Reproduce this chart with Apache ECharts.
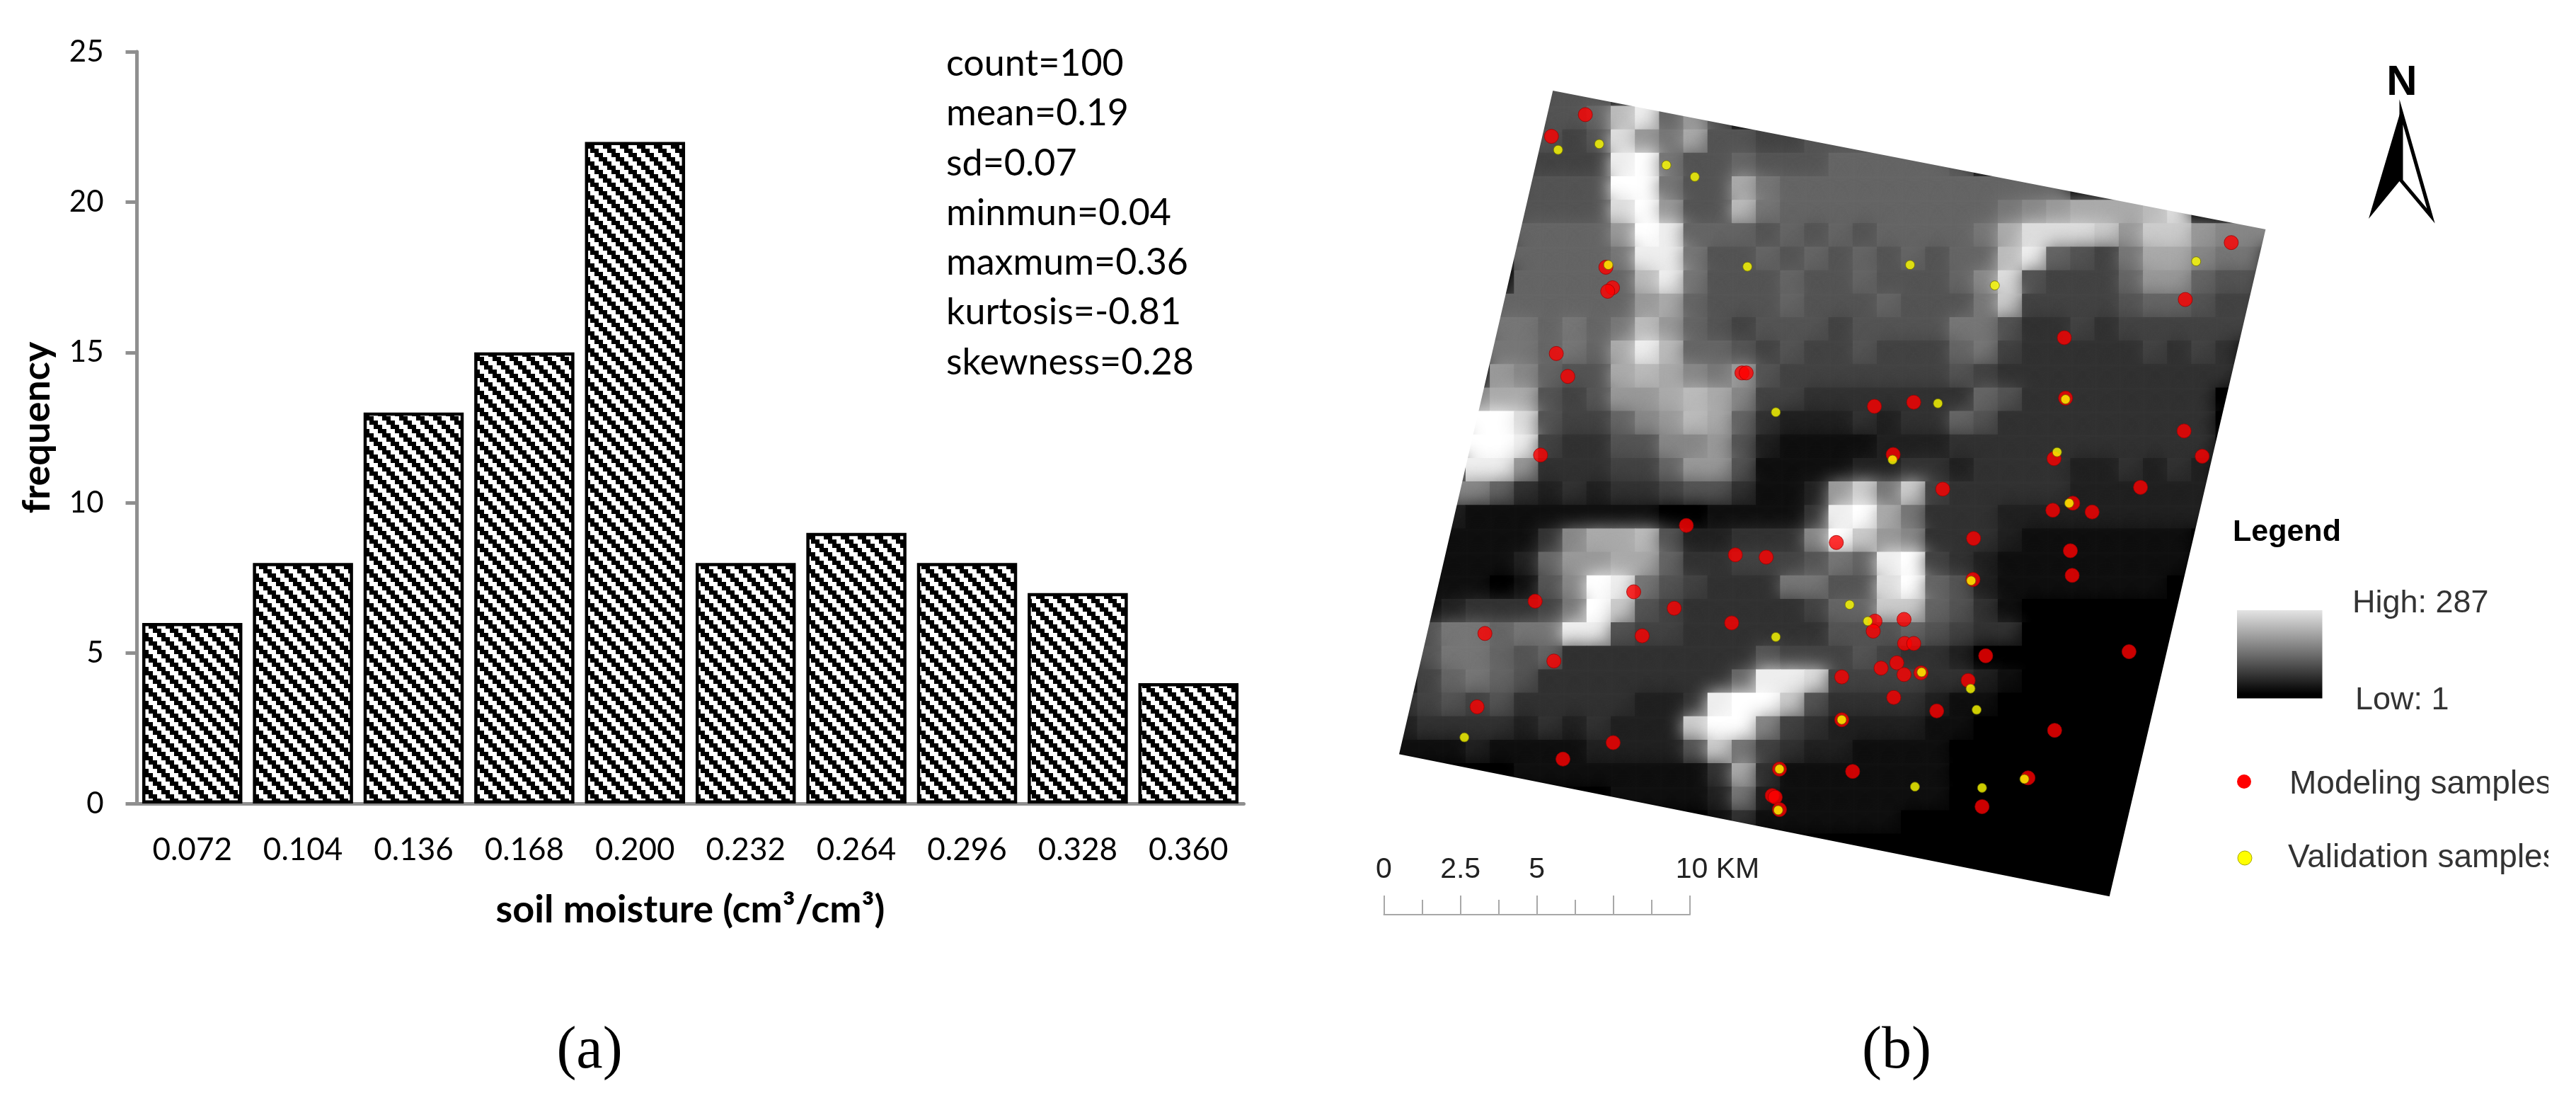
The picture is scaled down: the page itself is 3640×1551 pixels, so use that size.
<!DOCTYPE html>
<html>
<head>
<meta charset="utf-8">
<title>soil moisture histogram and sample map</title>
<style>
html, body { margin: 0; padding: 0; background: #fff; }
#main { width: 3640px; height: 1551px; }
</style>
<script src="https://cdn.jsdelivr.net/npm/echarts@6/dist/echarts.min.js"></script>
</head>
<body>
<div id="main"></div>
<script>
// histogram (a)
var binLabels = ['0.072', '0.104', '0.136', '0.168', '0.200', '0.232', '0.264', '0.296', '0.328', '0.360'];
var binCounts = [6, 8, 13, 15, 22, 8, 9, 8, 7, 4];
var statLines = ['count=100', 'mean=0.19', 'sd=0.07', 'minmun=0.04', 'maxmum=0.36', 'kurtosis=-0.81', 'skewness=0.28'];

// map (b): grey levels 0-f read by eye, one string per row, 40 map units per cell
var demRows = [
    '0000005550000000000000000000000000000',
    '000000556be69500000000000000000000000',
    '000000545d97a554455500000000000000000',
    '000004444ef7556555666665000000000000 0'.replace(' ', ''),
    '000005555ff755a766666666666600000000 0'.replace(' ', ''),
    '000005555df955b7666666666789aaabd0000',
    '0000066669fe6665656566667adddc9cc9888',
    '0000066667ee7556565656566be6547aa8770',
    '0000066666be7555655655568d54446996550',
    '00006666669a6555655565557c44445665440',
    '0000776767b96545554555577533434444440',
    '000077676aeb6654544544467433333434300',
    '000098655aba879544444445433333333 3300'.replace(' ', ''),
    '0008aa54599aba84433333336533333333000',
    '000ffd544689ba63222323365333333333000',
    '000ffe433558895211112223333333333 3000'.replace(' ', ''),
    '000ee933344699511112233233332232 32000'.replace(' ', ''),
    '0088632323345531129c7c433333222222000',
    '002111111110011113efa7333222222222000',
    '00111138aab5223338fc98333211111110000',
    '001112699aa633444576ef432111111110000',
    '01110158fe7543337755df652111111100000',
    '01233347fc5433333466cc653100000000000',
    '0577677ee54433333355565433000000000 00'.replace(' ', ''),
    '05776563333333354445433200000000000 00'.replace(' ', ''),
    '046765333333336eed4444332100000000000',
    '3454533333223effc53333211000000000000',
    '233332323222cff8432222110000000000000',
    '1112111122225c74322111100000000000000',
    '00000111111113a3111111100000000000000',
    '0000000001111272111111100000000000000',
    '0000000000000131111110000000000000000',
    '0000000000000000000000000000000000000',
    '0000000000000000000000000000000000000',
    '0000000000000000000000000000000000000'
];
var demCorners = [[343, 92], [1525, 329], [1266, 1469], [88, 1226]];

var modelingSamples = [
    [398, 135], [342, 172], [432, 395], [443, 430], [435, 436], [350, 542], [369, 581], [657, 575], [664, 575],
    [1466, 353], [1390, 450], [1190, 515], [876, 632], [941, 625], [1192, 618], [324, 715], [907, 714], [1173, 721],
    [1388, 674], [1418, 717], [989, 773], [1316, 770], [1171, 809], [1204, 797], [1236, 812], [565, 835], [813, 864],
    [646, 885], [697, 889], [1040, 857], [1200, 878], [1203, 920], [1039, 927], [478, 948], [315, 964], [545, 976],
    [640, 1001], [877, 998], [925, 995], [874, 1015], [232, 1019], [492, 1023], [926, 1036], [941, 1036], [346, 1066],
    [1060, 1057], [1297, 1050], [913, 1069], [887, 1078], [925, 1089], [953, 1086], [822, 1093], [1031, 1099],
    [908, 1128], [979, 1151], [219, 1144], [822, 1166], [1174, 1184], [444, 1205], [361, 1233], [719, 1250],
    [840, 1254], [1130, 1265], [707, 1295], [712, 1298], [719, 1319], [1054, 1314]
];
var validationSamples = [
    [353, 195], [421, 185], [532, 221], [579, 241], [436, 391], [666, 394], [935, 391], [1075, 426], [1408, 385],
    [713, 642], [981, 627], [1192, 620], [906, 723], [1178, 710], [1198, 797], [1036, 929], [835, 970], [865, 998],
    [954, 1085], [713, 1025], [1035, 1113], [1045, 1149], [822, 1166], [198, 1196], [719, 1250], [943, 1280],
    [1054, 1282], [1124, 1267], [717, 1320]
];

var CELL = 40;
var demCells = [];
demRows.forEach(function (row, r) {
    for (var c = 0; c < row.length; c++) {
        demCells.push([80 + c * CELL, 80 + r * CELL, parseInt(row[c], 16)]);
    }
});

// 黑白斜纹填充
function stripePattern() {
    var cv = document.createElement('canvas');
    cv.width = 24;
    cv.height = 24;
    var ctx = cv.getContext('2d');
    ctx.fillStyle = '#fff';
    ctx.fillRect(0, 0, 24, 24);
    ctx.fillStyle = '#000';
    for (var j = 0; j < 4; j++) {
        for (var i = 0; i < 4; i++) {
            if ((i - j + 4) % 4 < 2) {
                ctx.fillRect(i * 6, j * 6, 6, 6);
            }
        }
    }
    return cv;
}

function renderDemCell(params, api) {
    var p = api.coord([api.value(0), api.value(1)]);
    var q = api.coord([api.value(0) + CELL, api.value(1) + CELL]);
    var g = api.value(2) * 17;
    var col = 'rgb(' + g + ',' + g + ',' + g + ')';
    return {
        type: 'rect',
        shape: { x: p[0], y: p[1], width: q[0] - p[0] + 1, height: q[1] - p[1] + 1 },
        style: { fill: col, shadowColor: col, shadowBlur: 26 }
    };
}

// 遮住平行四边形以外的部分
function renderDemMask(params, api) {
    var L = 20, R = 1630, T = 20, B = 1540;
    var c = demCorners;
    var quads = [
        [[L, T], [R, T], c[1], c[0]],
        [[R, T], [R, B], c[2], c[1]],
        [[R, B], [L, B], c[3], c[2]],
        [[L, B], [L, T], c[0], c[3]]
    ];
    return {
        type: 'polygon',
        shape: { points: quads[api.value(0)].map(function (pt) { return api.coord(pt); }) },
        style: { fill: '#fff', stroke: '#fff', lineWidth: 3 }
    };
}

function legendText(text, x, y, size, weight, color) {
    return {
        type: 'text', x: x, y: y, z: 20,
        style: {
            text: text, fill: color || '#333',
            font: (weight || 'normal') + ' ' + size + 'px "Liberation Sans"',
            verticalAlign: 'middle'
        }
    };
}

var chart = echarts.init(document.getElementById('main'));
var axisGrey = '#8f8f8f';

chart.setOption({
    animation: false,
    backgroundColor: '#fff',
    grid: [
        { left: 193.5, top: 73, width: 1564, height: 1062 },
        { left: 1900, top: 50, width: 1340, height: 1300 },
        { left: 1955.5, top: 1291, width: 432.5, height: 1 }
    ],
    xAxis: [
        {
            type: 'category', gridIndex: 0, data: binLabels,
            axisLine: { lineStyle: { color: axisGrey, width: 5 } },
            axisTick: { length: 16, lineStyle: { color: axisGrey, width: 5 } },
            axisLabel: { color: '#000', fontFamily: 'Lato', fontSize: 44, margin: 44, interval: 0 },
            name: 'soil moisture (cm³/cm³)', nameLocation: 'middle', nameGap: 124,
            nameTextStyle: { color: '#000', fontFamily: 'Lato', fontWeight: 'bold', fontSize: 54 }
        },
        { type: 'value', gridIndex: 1, min: 0, max: 1568, show: false },
        {
            type: 'value', gridIndex: 2, min: 0, max: 10, interval: 2.5, z: 10,
            axisLine: { show: true, onZero: false, lineStyle: { color: '#a8a8a8', width: 2 } },
            axisTick: { show: true, inside: true, length: 27, lineStyle: { color: '#a8a8a8', width: 2 } },
            minorTick: { show: true, splitNumber: 2, length: 21, lineStyle: { color: '#a8a8a8', width: 2 } },
            splitLine: { show: false },
            axisLabel: {
                inside: true, margin: 43, color: '#222', fontFamily: 'Liberation Sans', fontSize: 41,
                formatter: function (v) {
                    if (v === 10) { return '{km|10 KM}'; }
                    return v === 7.5 ? '' : String(v);
                },
                rich: { km: { fontFamily: 'Liberation Sans', fontSize: 41, color: '#222', padding: [0, 0, 0, 78] } }
            }
        }
    ],
    yAxis: [
        {
            type: 'value', gridIndex: 0, min: 0, max: 25, interval: 5,
            axisLine: { show: true, lineStyle: { color: axisGrey, width: 5 } },
            axisTick: { show: true, length: 16, lineStyle: { color: axisGrey, width: 5 } },
            splitLine: { show: false },
            axisLabel: { color: '#000', fontFamily: 'Lato', fontSize: 42, margin: 47 },
            name: 'frequency', nameLocation: 'middle', nameGap: 114, nameRotate: 90,
            nameTextStyle: { color: '#000', fontFamily: 'Lato', fontWeight: 'bold', fontSize: 54 }
        },
        { type: 'value', gridIndex: 1, min: 0, max: 1568, inverse: true, show: false },
        { type: 'value', gridIndex: 2, min: 0, max: 1, show: false }
    ],
    series: [
        {
            type: 'bar', xAxisIndex: 0, yAxisIndex: 0, data: binCounts, barWidth: 141.5,
            itemStyle: { color: { image: stripePattern(), repeat: 'repeat' }, borderColor: '#000', borderWidth: 4.5 },
            z: 1
        },
        {
            type: 'custom', xAxisIndex: 1, yAxisIndex: 1, data: demCells, renderItem: renderDemCell,
            clip: false, silent: true, z: 2
        },
        {
            type: 'custom', xAxisIndex: 1, yAxisIndex: 1, data: [[0], [1], [2], [3]], renderItem: renderDemMask,
            clip: false, silent: true, z: 3
        },
        {
            type: 'scatter', name: 'Modeling samples', xAxisIndex: 1, yAxisIndex: 1, data: modelingSamples,
            symbolSize: 20, itemStyle: { color: '#ff0000', borderColor: '#a00000', borderWidth: 1 }, z: 4
        },
        {
            type: 'scatter', name: 'Validation samples', xAxisIndex: 1, yAxisIndex: 1, data: validationSamples,
            symbolSize: 13, itemStyle: { color: '#ffff00', borderColor: '#6b6b00', borderWidth: 1 }, z: 5
        }
    ],
    graphic: [
        {
            type: 'text', x: 1337, y: 55, z: 20,
            style: { text: statLines.join('\n'), fill: '#000', font: '52px Lato', lineHeight: 70.3 }
        },
        {
            type: 'text', x: 833, y: 1486, z: 20,
            style: { text: '(a)', fill: '#000', font: '84px "Liberation Serif"', align: 'center', verticalAlign: 'middle' }
        },
        {
            type: 'text', x: 2680, y: 1486, z: 20,
            style: { text: '(b)', fill: '#000', font: '84px "Liberation Serif"', align: 'center', verticalAlign: 'middle' }
        },
        // north arrow
        {
            type: 'text', x: 3394, y: 117, z: 20,
            style: { text: 'N', fill: '#000', font: 'bold 60px "Liberation Sans"', align: 'center', verticalAlign: 'middle' }
        },
        { type: 'polygon', z: 20, shape: { points: [[3393, 154], [3347, 309], [3393, 253]] }, style: { fill: '#000' } },
        {
            type: 'polygon', z: 20,
            shape: { points: [[3393, 158], [3435, 305], [3393, 255]] },
            style: { fill: '#fff', stroke: '#000', lineWidth: 5, lineJoin: 'miter' }
        },
        // legend
        legendText('Legend', 3155, 752, 43, 'bold', '#000'),
        {
            type: 'rect', z: 20, shape: { x: 3161, y: 862, width: 120.5, height: 124.5 },
            style: {
                fill: {
                    type: 'linear', x: 0, y: 0, x2: 0, y2: 1,
                    colorStops: [{ offset: 0, color: '#e4e4e4' }, { offset: 0.5, color: '#6e6e6e' }, { offset: 0.95, color: '#000' }, { offset: 1, color: '#000' }]
                }
            }
        },
        legendText('High: 287', 3324, 853, 45),
        legendText('Low: 1', 3328, 990, 45),
        { type: 'circle', z: 20, shape: { cx: 3171, cy: 1104, r: 10 }, style: { fill: '#ff0000' } },
        { type: 'circle', z: 20, shape: { cx: 3172, cy: 1212, r: 10 }, style: { fill: '#ffff00', stroke: '#a8a800', lineWidth: 1 } },
        legendText('Modeling samples', 3235, 1108, 46),
        legendText('Validation samples', 3233, 1212, 46),
        // 右侧文字在原图中被裁掉
        { type: 'rect', z: 30, shape: { x: 3601, y: 1060, width: 39, height: 200 }, style: { fill: '#fff' } }
    ]
});
</script>
</body>
</html>
